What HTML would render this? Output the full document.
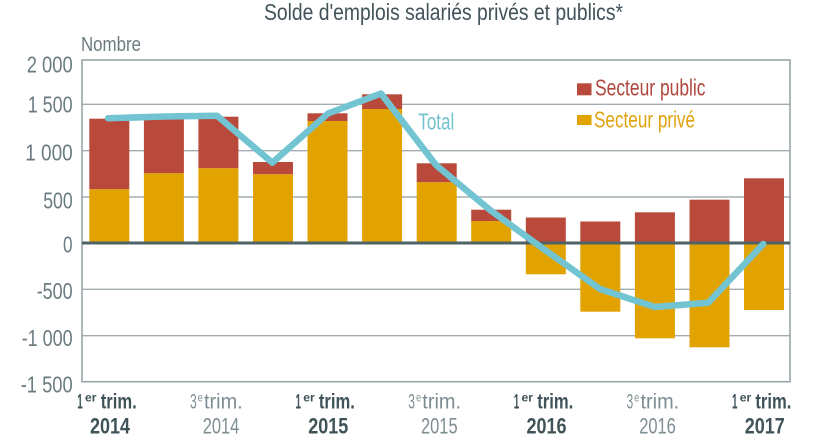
<!DOCTYPE html>
<html><head><meta charset="utf-8"><style>
html,body{margin:0;padding:0;background:#fff;}
svg{display:block;}
text{font-family:"Liberation Sans",sans-serif;}
</style></head><body>
<svg width="835" height="438" viewBox="0 0 835 438" xmlns="http://www.w3.org/2000/svg">
<rect width="835" height="438" fill="#fff"/>
<!-- title -->
<text x="264" y="20" font-size="23" fill="#42535a" textLength="359" lengthAdjust="spacingAndGlyphs">Solde d'emplois salariés privés et publics*</text>
<text x="81" y="51" font-size="20.5" fill="#6a7b80" textLength="60" lengthAdjust="spacingAndGlyphs">Nombre</text>
<!-- y labels -->
<g font-size="23.5" fill="#6a7b80" text-anchor="end">
<text x="72.7" y="72.5" textLength="46" lengthAdjust="spacingAndGlyphs">2 000</text>
<text x="72.7" y="112.5" textLength="45" lengthAdjust="spacingAndGlyphs">1 500</text>
<text x="72.7" y="160.5" textLength="47.5" lengthAdjust="spacingAndGlyphs">1 000</text>
<text x="72.7" y="208.3" textLength="29.5" lengthAdjust="spacingAndGlyphs">500</text>
<text x="72.5" y="252.3" textLength="9.5" lengthAdjust="spacingAndGlyphs">0</text>
<text x="72.7" y="299" textLength="36" lengthAdjust="spacingAndGlyphs">-500</text>
<text x="72.7" y="346" textLength="51" lengthAdjust="spacingAndGlyphs">-1 000</text>
<text x="72.7" y="392.5" textLength="52" lengthAdjust="spacingAndGlyphs">-1 500</text>
</g>
<!-- gridlines -->
<g stroke="#a3adb0" stroke-width="1.4">
<line x1="82" y1="104.3" x2="790" y2="104.3"/>
<line x1="82" y1="150.7" x2="790" y2="150.7"/>
<line x1="82" y1="197" x2="790" y2="197"/>
<line x1="82" y1="289.3" x2="790" y2="289.3"/>
<line x1="82" y1="335.7" x2="790" y2="335.7"/>
</g>
<!-- bars -->
<g fill="#b9493a">
<rect x="89.3" y="118.7" width="40" height="70.6"/>
<rect x="143.9" y="119" width="40" height="54.3"/>
<rect x="198.4" y="116.7" width="40" height="51.6"/>
<rect x="253" y="162" width="40" height="12.3"/>
<rect x="307.5" y="113.3" width="40" height="7.7"/>
<rect x="362.1" y="94.3" width="40" height="14.7"/>
<rect x="416.7" y="163.3" width="40" height="19"/>
<rect x="471.2" y="209.7" width="40" height="11.3"/>
<rect x="525.8" y="217.5" width="40" height="25.5"/>
<rect x="580.3" y="221.5" width="40" height="21.5"/>
<rect x="634.9" y="212.3" width="40" height="30.7"/>
<rect x="689.5" y="199.7" width="40" height="43.3"/>
<rect x="744" y="178.3" width="40" height="64.7"/>
</g>
<g fill="#e2a200">
<rect x="89.3" y="189.3" width="40" height="53.7"/>
<rect x="143.9" y="173.3" width="40" height="69.7"/>
<rect x="198.4" y="168.3" width="40" height="74.7"/>
<rect x="253" y="174.3" width="40" height="68.7"/>
<rect x="307.5" y="121" width="40" height="122"/>
<rect x="362.1" y="109" width="40" height="134"/>
<rect x="416.7" y="182.3" width="40" height="60.7"/>
<rect x="471.2" y="221" width="40" height="22"/>
<rect x="525.8" y="243" width="40" height="31.3"/>
<rect x="580.3" y="243" width="40" height="68.7"/>
<rect x="634.9" y="243" width="40" height="95.3"/>
<rect x="689.5" y="243" width="40" height="104.3"/>
<rect x="744" y="243" width="40" height="67"/>
</g>
<!-- frame -->
<rect x="82" y="60" width="708" height="321.7" fill="none" stroke="#9aa6a9" stroke-width="1.6"/>
<!-- zero line -->
<line x1="82" y1="243" x2="790" y2="243" stroke="#4f6266" stroke-width="3"/>
<!-- total line -->
<polyline fill="none" stroke="#72c4d3" stroke-width="6.5" stroke-linejoin="round" stroke-linecap="round"
points="108,118.3 163.9,116.5 217,115.7 272.3,162.7 328,113.5 381,93.5 436,165 490,210 545,250 600,289 655,307 708.3,302.7 763.3,244"/>
<!-- legend -->
<rect x="577" y="83.3" width="14.5" height="12" fill="#b9493a"/>
<text x="595" y="95.7" font-size="23" fill="#b0473d" textLength="110.5" lengthAdjust="spacingAndGlyphs">Secteur public</text>
<rect x="577" y="115" width="14.5" height="10" fill="#e2a200"/>
<text x="594" y="127.5" font-size="23" fill="#e0a20e" textLength="101" lengthAdjust="spacingAndGlyphs">Secteur privé</text>
<text x="418.3" y="129.3" font-size="23.5" fill="#72c2cf" textLength="36" lengthAdjust="spacingAndGlyphs">Total</text>
<!-- x labels: bold -->
<g fill="#3f5358" font-weight="bold">
<g transform="translate(109.3,0)">
<text x="-32" y="408.3" font-size="21" textLength="5.5" lengthAdjust="spacingAndGlyphs">1</text>
<text x="-24.3" y="401.5" font-size="12" textLength="11.5" lengthAdjust="spacingAndGlyphs">er</text>
<text x="-8.6" y="408.3" font-size="21" textLength="36" lengthAdjust="spacingAndGlyphs">trim.</text>
<text x="-19.3" y="433.3" font-size="22" textLength="40" lengthAdjust="spacingAndGlyphs">2014</text>
</g>
<g transform="translate(327.5,0)">
<text x="-32" y="408.3" font-size="21" textLength="5.5" lengthAdjust="spacingAndGlyphs">1</text>
<text x="-24.3" y="401.5" font-size="12" textLength="11.5" lengthAdjust="spacingAndGlyphs">er</text>
<text x="-8.6" y="408.3" font-size="21" textLength="36" lengthAdjust="spacingAndGlyphs">trim.</text>
<text x="-19.3" y="433.3" font-size="22" textLength="40" lengthAdjust="spacingAndGlyphs">2015</text>
</g>
<g transform="translate(545.8,0)">
<text x="-32" y="408.3" font-size="21" textLength="5.5" lengthAdjust="spacingAndGlyphs">1</text>
<text x="-24.3" y="401.5" font-size="12" textLength="11.5" lengthAdjust="spacingAndGlyphs">er</text>
<text x="-8.6" y="408.3" font-size="21" textLength="36" lengthAdjust="spacingAndGlyphs">trim.</text>
<text x="-19.3" y="433.3" font-size="22" textLength="40" lengthAdjust="spacingAndGlyphs">2016</text>
</g>
<g transform="translate(764,0)">
<text x="-32" y="408.3" font-size="21" textLength="5.5" lengthAdjust="spacingAndGlyphs">1</text>
<text x="-24.3" y="401.5" font-size="12" textLength="11.5" lengthAdjust="spacingAndGlyphs">er</text>
<text x="-8.6" y="408.3" font-size="21" textLength="36" lengthAdjust="spacingAndGlyphs">trim.</text>
<text x="-19.3" y="433.3" font-size="22" textLength="40" lengthAdjust="spacingAndGlyphs">2017</text>
</g>
</g>
<!-- x labels: light -->
<g fill="#7d8d91">
<g transform="translate(218.4,0)">
<text x="-28.4" y="408.3" font-size="21" textLength="6.7" lengthAdjust="spacingAndGlyphs">3</text>
<text x="-20.6" y="401.5" font-size="12" textLength="5" lengthAdjust="spacingAndGlyphs">e</text>
<text x="-14.4" y="408.3" font-size="21" textLength="38.7" lengthAdjust="spacingAndGlyphs">trim.</text>
<text x="-15.7" y="433.3" font-size="22" textLength="36.6" lengthAdjust="spacingAndGlyphs">2014</text>
</g>
<g transform="translate(436.7,0)">
<text x="-28.4" y="408.3" font-size="21" textLength="6.7" lengthAdjust="spacingAndGlyphs">3</text>
<text x="-20.6" y="401.5" font-size="12" textLength="5" lengthAdjust="spacingAndGlyphs">e</text>
<text x="-14.4" y="408.3" font-size="21" textLength="38.7" lengthAdjust="spacingAndGlyphs">trim.</text>
<text x="-15.7" y="433.3" font-size="22" textLength="36.6" lengthAdjust="spacingAndGlyphs">2015</text>
</g>
<g transform="translate(654.9,0)">
<text x="-28.4" y="408.3" font-size="21" textLength="6.7" lengthAdjust="spacingAndGlyphs">3</text>
<text x="-20.6" y="401.5" font-size="12" textLength="5" lengthAdjust="spacingAndGlyphs">e</text>
<text x="-14.4" y="408.3" font-size="21" textLength="38.7" lengthAdjust="spacingAndGlyphs">trim.</text>
<text x="-15.7" y="433.3" font-size="22" textLength="36.6" lengthAdjust="spacingAndGlyphs">2016</text>
</g>
</g>
</svg>
</body></html>
